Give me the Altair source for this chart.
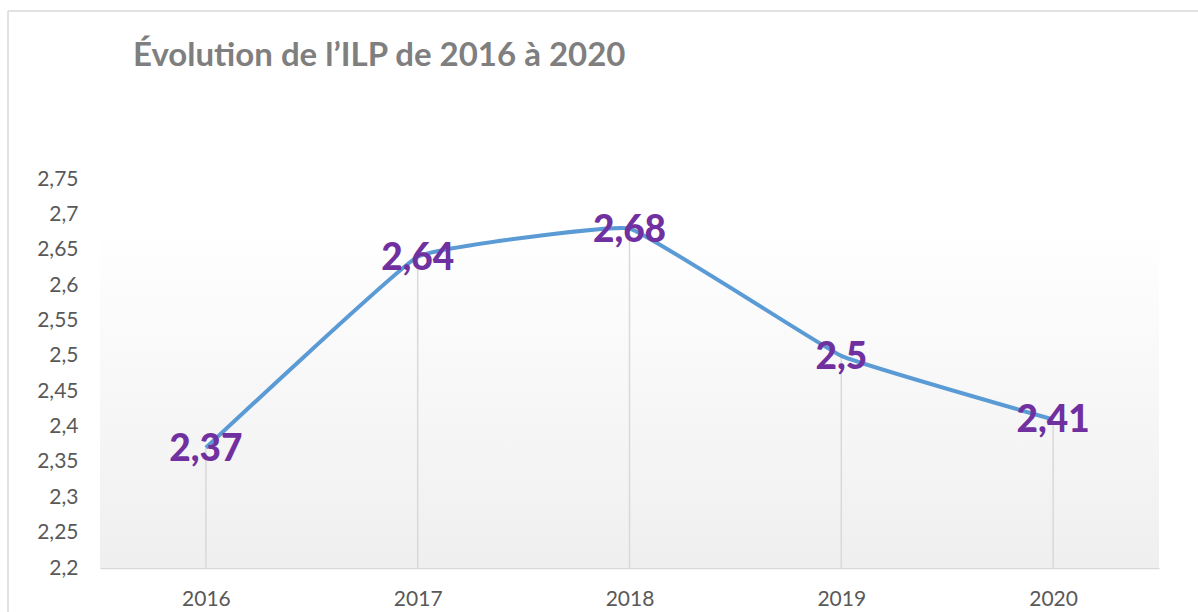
import altair as alt
import pandas as pd

years = ["2016", "2017", "2018", "2019", "2020"]
values = [2.37, 2.64, 2.68, 2.5, 2.41]
y_ticks = [2.2, 2.25, 2.3, 2.35, 2.4, 2.45, 2.5, 2.55, 2.6, 2.65, 2.7, 2.75]
title_text = "Évolution de l’ILP de 2016 à 2020"

df = pd.DataFrame({
    "year": years,
    "value": values,
    "label": [str(v).replace(".", ",") for v in values],
})

FONT = "Lato"
x_enc = alt.X("year:O", scale=alt.Scale(type="point", padding=0.5),
              axis=alt.Axis(title=None, labelAngle=0, labelFont=FONT, labelFontSize=21,
                            labelColor="#595959", labelPadding=20, ticks=False,
                            domainColor="#D9D9D9", domainWidth=1.5))
y_scale = alt.Scale(domain=[min(y_ticks), max(y_ticks)], nice=False, zero=False)
y_axis = alt.Axis(title=None, values=y_ticks, grid=False, domain=False, ticks=False,
                  tickSize=0, labelPadding=22, labelFont=FONT, labelFontSize=21,
                  labelColor="#595959",
                  labelExpr="replace(format(datum.value, '.2~f'), '.', ',')")
y_enc = alt.Y("value:Q", scale=y_scale, axis=y_axis)

base = alt.Chart(df)

bg = alt.Chart(pd.DataFrame({"top": [max(values)], "bottom": [min(y_ticks)]})).mark_rect(
    color=alt.Gradient(gradient="linear", x1=0, y1=0, x2=0, y2=1,
                       stops=[alt.GradientStop(color="#FFFFFF", offset=0),
                              alt.GradientStop(color="#EFEFEF", offset=1)])
).encode(
    x=alt.value(0), x2=alt.value("width"),
    y=alt.Y("top:Q", scale=y_scale, axis=y_axis), y2="bottom:Q",
)

drops = base.mark_rule(color="#D9D9D9", strokeWidth=1.5).encode(
    x=x_enc, y=y_enc, y2=alt.datum(min(y_ticks)))

line = base.mark_line(color="#5B9BD5", strokeWidth=4, interpolate="cardinal", tension=0.75).encode(
    x=x_enc, y=y_enc)

labels = base.mark_text(font=FONT, fontSize=37, fontWeight=900, color="#7030A0",
                        baseline="middle", align="center", dy=2).encode(
    x=x_enc, y=y_enc, text="label:N")

title = alt.Chart(pd.DataFrame({"t": [title_text]})).mark_text(
    font=FONT, fontSize=33, fontWeight="bold", color="#7F7F7F",
    align="left", baseline="alphabetic").encode(
    x=alt.value(33), y=alt.value(-113), text="t:N")

border_v = alt.Chart(pd.DataFrame({"a": [0]})).mark_rule(color="#D9D9D9", strokeWidth=1.5).encode(
    x=alt.value(-92), y=alt.value(-168), y2=alt.value(440))
border_h = alt.Chart(pd.DataFrame({"a": [0]})).mark_rule(color="#D9D9D9", strokeWidth=1.5).encode(
    x=alt.value(-92), x2=alt.value(1110), y=alt.value(-168))

chart = alt.layer(bg, drops, line, labels, title, border_v, border_h).properties(
    width=1059, height=389,
    background="#FFFFFF",
    autosize=alt.AutoSizeParams(type="none"),
    padding={"left": 100, "top": 179, "right": 39, "bottom": 44},
).configure_view(strokeWidth=0, stroke="transparent")

chart.save("out.html", embed_options={"renderer": "svg", "actions": False})
